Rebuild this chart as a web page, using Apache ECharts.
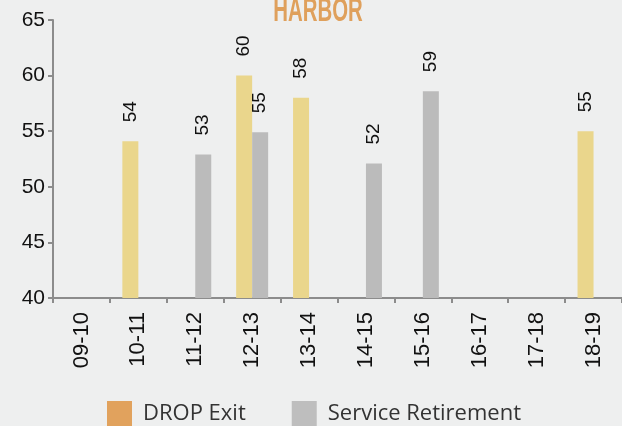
<!DOCTYPE html>
<html><head><meta charset="utf-8">
<script src="https://cdn.jsdelivr.net/npm/echarts@6/dist/echarts.min.js"></script>
<style>html,body{margin:0;padding:0;background:#EEEFEF;}#c{width:622px;height:426px;}</style>
</head><body><div id="c"></div>
<script>
const categories = ['09-10','10-11','11-12','12-13','13-14','14-15','15-16','16-17','17-18','18-19'];
const dropExit = [null, 54.1, null, 60.0, 58.0, null, null, null, null, 55.0];
const serviceRetirement = [null, null, 52.9, 54.9, null, 52.1, 58.6, null, null, null];
const yTicks = [40, 45, 50, 55, 60, 65];
const title = 'HARBOR';
const seriesNames = ['DROP Exit', 'Service Retirement'];

const chart = echarts.init(document.getElementById('c'));
const labelCfg = {
  show: true, position: 'top', rotate: 90, align: 'left', verticalAlign: 'middle',
  distance: 19, fontFamily: 'Liberation Sans, Arial', fontSize: 19, color: '#111',
  formatter: p => Math.round(p.value)
};
chart.setOption({
  backgroundColor: '#EEEFEF',
  animation: false,
  graphic: [{
    type: 'text', x: 318, y: 29, scaleX: 0.6, scaleY: 1,
    style: { text: title, fill: '#DFA05C', font: 'bold 34px "Liberation Sans", Arial',
      align: 'center', verticalAlign: 'bottom' }
  }],
  grid: { left: 53, right: 0, top: 20, bottom: 128 },
  legend: {
    bottom: -5, left: 102, itemWidth: 25, itemHeight: 25, itemGap: 46,
    icon: 'rect',
    textStyle: { fontFamily: 'Open Sans, Noto Sans', fontSize: 22, color: '#333', padding: [0, 0, 0, 6] },
    data: [
      { name: seriesNames[0], itemStyle: { color: '#E1A25D' } },
      { name: seriesNames[1], itemStyle: { color: '#BEBEBE' } }
    ]
  },
  xAxis: {
    type: 'category', data: categories,
    axisLine: { lineStyle: { color: '#8C8C8C', width: 2 } },
    axisTick: { show: true, length: 5, lineStyle: { color: '#8C8C8C', width: 2 } },
    axisLabel: { rotate: 90, fontFamily: 'Liberation Sans, Arial', fontSize: 22, color: '#111', margin: 14 }
  },
  yAxis: {
    type: 'value', min: 40, max: 65, interval: 5,
    splitLine: { show: false },
    axisLine: { show: true, lineStyle: { color: '#8C8C8C', width: 2 } },
    axisTick: { show: true, length: 5, lineStyle: { color: '#8C8C8C', width: 2 } },
    axisLabel: { fontFamily: 'Liberation Sans, Arial', fontSize: 21, color: '#111', margin: 8,
      formatter: v => yTicks.includes(v) ? String(v) : '' }
  },
  series: [
    { name: seriesNames[0], type: 'bar', data: dropExit, barWidth: 16, barGap: '0%',
      itemStyle: { color: '#EAD68C' }, label: labelCfg },
    { name: seriesNames[1], type: 'bar', data: serviceRetirement, barWidth: 16, barGap: '0%',
      itemStyle: { color: '#BBBBBB' }, label: labelCfg }
  ]
});
</script></body></html>
